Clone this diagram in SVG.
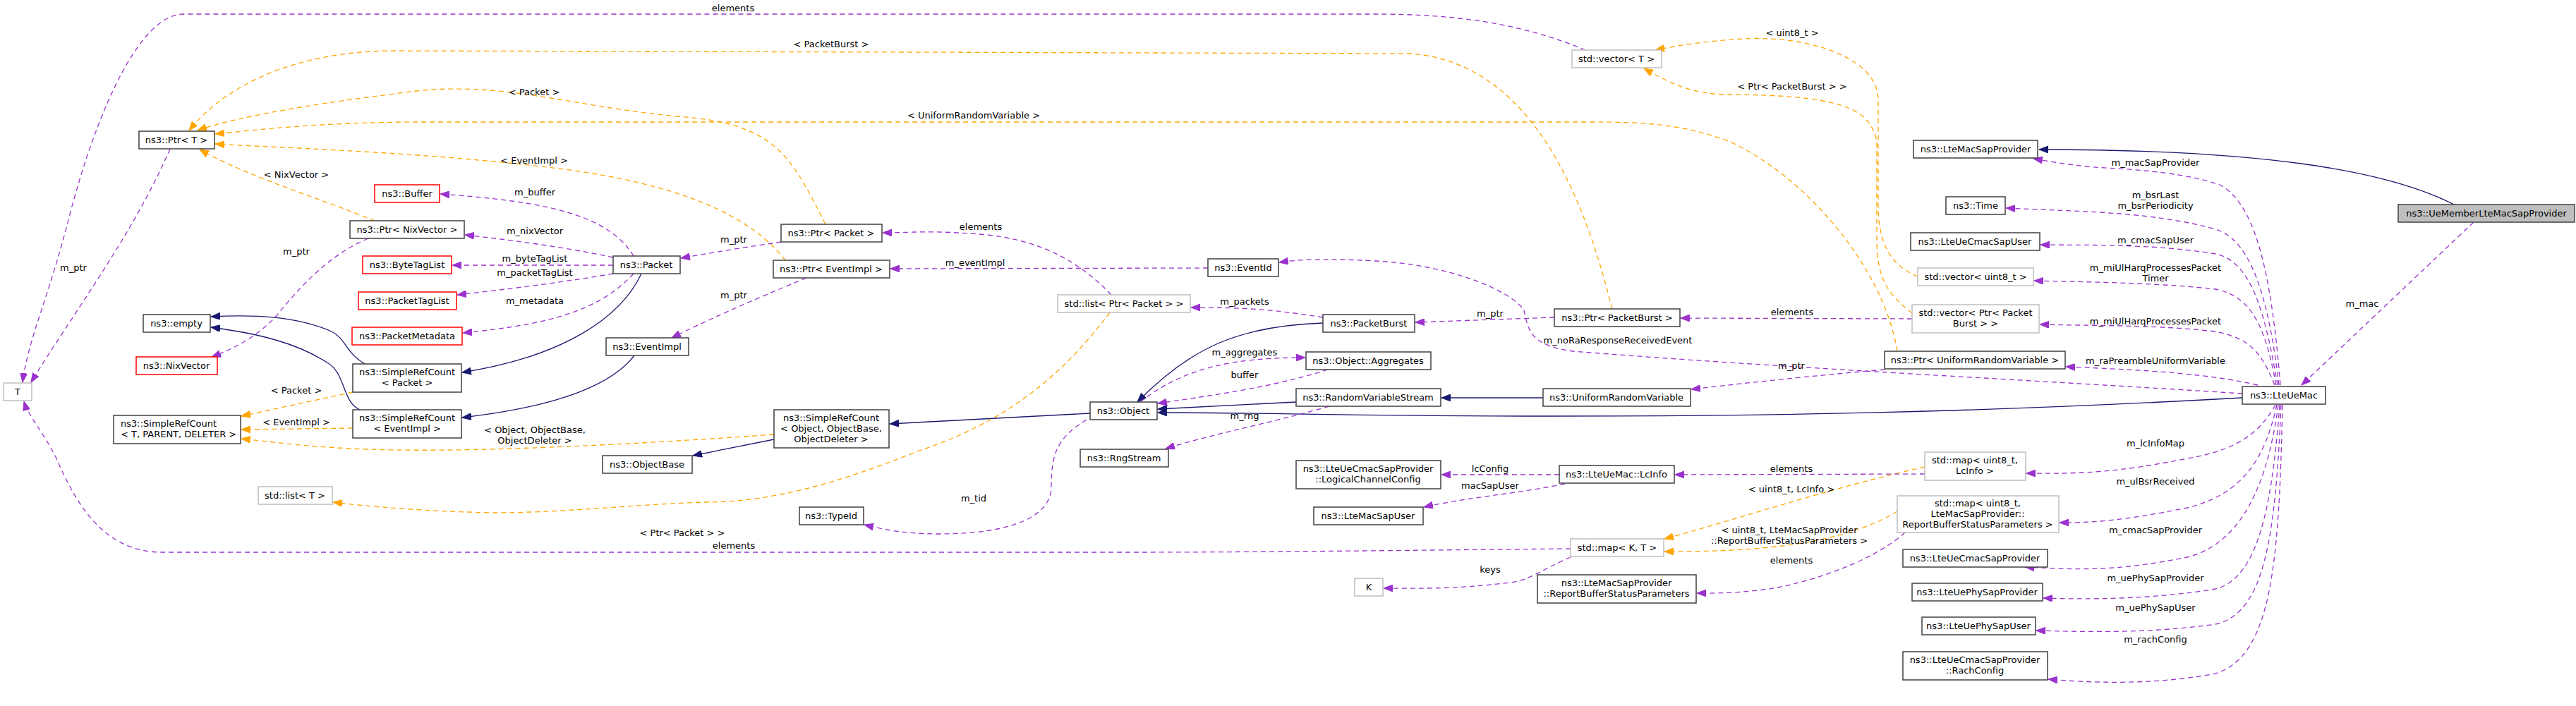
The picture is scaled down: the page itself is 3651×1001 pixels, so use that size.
<svg xmlns="http://www.w3.org/2000/svg" width="3651" height="1001" viewBox="0 0 3651 1001">
<style>
text{font-family:"DejaVu Sans","Liberation Sans",sans-serif;font-size:13px;fill:#000}
.n rect{fill:#fff;stroke:#404040;stroke-width:1.5}
.r rect{stroke:#ff0000}
.g rect{stroke:#bfbfbf}
.m text{text-anchor:middle}
.e path{fill:none;stroke-width:1.3}
.p{stroke:#9a32cd;stroke-dasharray:7,5;marker-end:url(#ap)}
.o{stroke:#ffa500;stroke-dasharray:7,5;marker-end:url(#ao)}
.b{stroke:#191970;marker-end:url(#ab)}
.l{text-anchor:middle}
</style>
<defs>
<marker id="ap" markerUnits="userSpaceOnUse" markerWidth="14" markerHeight="10" refX="13" refY="5" orient="auto"><path d="M0,0 L13,5 L0,10 z" fill="#9a32cd" stroke="#9a32cd"/></marker>
<marker id="ao" markerUnits="userSpaceOnUse" markerWidth="14" markerHeight="10" refX="13" refY="5" orient="auto"><path d="M0,0 L13,5 L0,10 z" fill="#ffa500" stroke="#ffa500"/></marker>
<marker id="ab" markerUnits="userSpaceOnUse" markerWidth="14" markerHeight="10" refX="13" refY="5" orient="auto"><path d="M0,0 L13,5 L0,10 z" fill="#191970" stroke="#191970"/></marker>
</defs>
<rect width="3651" height="1001" fill="#fff"/>
<g id="edges" class="e">
<path class="b" d="M3478,290 C3380,240 3200,212 2890,212"/>
<path class="b" d="M3178,564 C2800,585 2500,590 2200,590 C1900,590 1800,585 1641,585"/>
<path class="b" d="M1837,570 L1641,580"/>
<path class="b" d="M2187,564 L2043,564"/>
<path class="b" d="M1875,458 C1760,462 1690,490 1612,570"/>
<path class="b" d="M1545,586 L1261,601"/>
<path class="b" d="M1097,623 L982,646"/>
<path class="b" d="M909,388 C880,450 800,505 655,528"/>
<path class="b" d="M899,504 C860,555 760,580 655,592"/>
<path class="b" d="M517,516 C490,500 490,480 470,470 C420,448 360,446 299,449"/>
<path class="b" d="M510,581 C485,570 490,530 465,515 C420,485 360,472 299,464"/>
<path class="o" d="M2285,438 C2250,300 2180,90 2000,76 L560,72 C420,72 320,120 268,185"/>
<path class="o" d="M1170,318 C1120,220 1100,175 960,165 C800,150 700,110 560,133 C420,150 320,170 280,185"/>
<path class="o" d="M2689,498 C2670,380 2560,250 2450,200 C2380,175 2330,173 2250,173 L600,173 C480,173 400,180 305,190"/>
<path class="o" d="M1113,369 C1060,300 950,260 800,240 C600,215 400,210 305,204"/>
<path class="o" d="M531,313 C450,280 350,250 283,212"/>
<path class="o" d="M500,556 L342,590"/>
<path class="o" d="M500,607 L342,609"/>
<path class="o" d="M1097,616 C900,630 700,640 560,638 C450,636 400,628 342,622"/>
<path class="o" d="M1573,443 C1500,540 1420,600 1300,640 C1200,680 1100,712 1000,712 C900,715 800,727 700,727 C600,725 520,718 472,712"/>
<path class="o" d="M2718,392 C2690,380 2665,360 2662,300 L2662,140 C2660,80 2560,50 2470,55 C2420,58 2380,64 2346,71"/>
<path class="o" d="M2710,444 C2680,420 2660,400 2660,340 L2660,200 C2650,150 2600,135 2448,134 C2400,133 2370,120 2330,97"/>
<path class="o" d="M2728,662 C2600,690 2450,740 2359,764"/>
<path class="o" d="M2689,725 C2600,780 2450,782 2359,782"/>
<path class="p" d="M2247,71 C2150,30 2050,20 1950,20 L260,20 C200,20 140,150 100,300 C70,420 40,480 32,542"/>
<path class="p" d="M241,211 C190,330 100,450 44,542"/>
<path class="p" d="M522,338 C470,360 430,400 390,450 C360,480 330,495 300,506"/>
<path class="p" d="M3506,315 L3262,546"/>
<path class="p" d="M3232,546 C3220,400 3200,290 3146,262 C3080,240 3000,240 2957,236 C2920,232 2900,228 2882,225"/>
<path class="p" d="M3230,546 C3215,420 3190,340 3140,325 C3050,300 2950,300 2843,295"/>
<path class="p" d="M3228,546 C3210,440 3190,370 3140,360 C3050,345 2950,348 2892,347"/>
<path class="p" d="M3226,546 C3210,460 3190,420 3140,410 C3050,400 2950,400 2883,398"/>
<path class="p" d="M3224,546 C3205,500 3190,480 3140,470 C3050,460 2960,462 2891,460"/>
<path class="p" d="M3200,546 C3130,530 3050,525 2928,520"/>
<path class="p" d="M3178,558 C2900,540 2500,520 2230,498 C2170,490 2166,470 2160,440 C2140,410 2050,375 1950,370 C1880,366 1840,368 1813,372"/>
<path class="p" d="M2671,524 C2600,530 2500,540 2397,552"/>
<path class="p" d="M3225,574 C3200,620 3160,640 3100,650 C3000,670 2950,672 2872,671"/>
<path class="p" d="M3227,574 C3210,650 3180,700 3100,720 C3000,740 2960,741 2919,741"/>
<path class="p" d="M3229,574 C3215,680 3180,770 3100,790 C3000,810 2950,808 2870,804"/>
<path class="p" d="M3231,574 C3220,720 3200,820 3140,835 C3050,850 2960,850 2896,848"/>
<path class="p" d="M3233,574 C3225,760 3210,870 3140,885 C3050,898 2960,896 2886,894"/>
<path class="p" d="M3235,574 C3230,800 3220,930 3140,955 C3050,972 2960,968 2903,963"/>
<path class="p" d="M2728,672 L2374,673"/>
<path class="p" d="M2700,755 C2650,800 2550,830 2500,836 C2450,842 2420,841 2405,841"/>
<path class="p" d="M2226,790 C2180,810 2170,822 2140,826 C2060,836 2000,834 1961,834"/>
<path class="p" d="M2226,778 C2000,780 1800,783 1600,783 L230,783 C150,783 110,720 80,650 C60,610 40,590 34,569"/>
<path class="p" d="M2210,673 L2043,673"/>
<path class="p" d="M2218,686 C2150,700 2080,705 2018,719"/>
<path class="p" d="M1616,570 C1680,520 1750,507 1850,507"/>
<path class="p" d="M1882,524 C1800,550 1720,560 1641,572"/>
<path class="p" d="M1884,576 C1800,600 1720,615 1652,636"/>
<path class="p" d="M1540,595 C1500,620 1490,640 1490,690 C1490,730 1440,757 1330,757 C1280,757 1250,750 1225,744"/>
<path class="p" d="M1875,450 C1800,438 1760,436 1688,436"/>
<path class="p" d="M2203,450 L2006,457"/>
<path class="p" d="M2710,452 L2382,451"/>
<path class="p" d="M1712,380 L1262,381"/>
<path class="p" d="M1575,418 C1520,360 1460,340 1400,333 C1320,326 1290,330 1251,330"/>
<path class="p" d="M1107,343 C1060,350 1010,358 965,366"/>
<path class="p" d="M1143,394 C1080,420 1010,450 952,479"/>
<path class="p" d="M898,363 C860,300 760,285 624,275"/>
<path class="p" d="M869,365 C800,350 720,340 659,333"/>
<path class="p" d="M869,376 L641,376"/>
<path class="p" d="M869,388 C800,400 720,410 648,418"/>
<path class="p" d="M898,388 C850,440 780,460 656,472"/>
</g>
<g id="labels" class="l">
<text x="1039" y="16" class="l">elements</text>
<text x="1178" y="67" class="l">&lt; PacketBurst &gt;</text>
<text x="757" y="135" class="l">&lt; Packet &gt;</text>
<text x="1380" y="168" class="l">&lt; UniformRandomVariable &gt;</text>
<text x="757" y="232" class="l">&lt; EventImpl &gt;</text>
<text x="420" y="252" class="l">&lt; NixVector &gt;</text>
<text x="104" y="384" class="l">m_ptr</text>
<text x="420" y="361" class="l">m_ptr</text>
<text x="420" y="558" class="l">&lt; Packet &gt;</text>
<text x="420" y="603" class="l">&lt; EventImpl &gt;</text>
<text x="758" y="614" class="l">&lt; Object, ObjectBase,</text>
<text x="758" y="629" class="l">ObjectDeleter &gt;</text>
<text x="967" y="760" class="l">&lt; Ptr&lt; Packet &gt; &gt;</text>
<text x="2540" y="51" class="l">&lt; uint8_t &gt;</text>
<text x="2540" y="127" class="l">&lt; Ptr&lt; PacketBurst &gt; &gt;</text>
<text x="2539" y="698" class="l">&lt; uint8_t, LcInfo &gt;</text>
<text x="2536" y="756" class="l">&lt; uint8_t, LteMacSapProvider</text>
<text x="2536" y="771" class="l">::ReportBufferStatusParameters &gt;</text>
<text x="3348" y="435" class="l">m_mac</text>
<text x="3055" y="235" class="l">m_macSapProvider</text>
<text x="3055" y="281" class="l">m_bsrLast</text>
<text x="3055" y="296" class="l">m_bsrPeriodicity</text>
<text x="3055" y="345" class="l">m_cmacSapUser</text>
<text x="3055" y="384" class="l">m_miUlHarqProcessesPacket</text>
<text x="3055" y="399" class="l">Timer</text>
<text x="3055" y="460" class="l">m_miUlHarqProcessesPacket</text>
<text x="3055" y="516" class="l">m_raPreambleUniformVariable</text>
<text x="2293" y="487" class="l">m_noRaResponseReceivedEvent</text>
<text x="2539" y="523" class="l">m_ptr</text>
<text x="3055" y="633" class="l">m_lcInfoMap</text>
<text x="3055" y="687" class="l">m_ulBsrReceived</text>
<text x="3055" y="756" class="l">m_cmacSapProvider</text>
<text x="3055" y="824" class="l">m_uePhySapProvider</text>
<text x="3055" y="866" class="l">m_uePhySapUser</text>
<text x="3055" y="911" class="l">m_rachConfig</text>
<text x="2539" y="669" class="l">elements</text>
<text x="2539" y="799" class="l">elements</text>
<text x="2112" y="812" class="l">keys</text>
<text x="1040" y="778" class="l">elements</text>
<text x="2112" y="669" class="l">lcConfig</text>
<text x="2112" y="693" class="l">macSapUser</text>
<text x="1764" y="504" class="l">m_aggregates</text>
<text x="1764" y="536" class="l">buffer</text>
<text x="1764" y="594" class="l">m_rng</text>
<text x="1380" y="711" class="l">m_tid</text>
<text x="1764" y="432" class="l">m_packets</text>
<text x="2112" y="449" class="l">m_ptr</text>
<text x="2540" y="447" class="l">elements</text>
<text x="1382" y="377" class="l">m_eventImpl</text>
<text x="1390" y="326" class="l">elements</text>
<text x="1040" y="344" class="l">m_ptr</text>
<text x="1040" y="423" class="l">m_ptr</text>
<text x="758" y="277" class="l">m_buffer</text>
<text x="758" y="332" class="l">m_nixVector</text>
<text x="758" y="371" class="l">m_byteTagList</text>
<text x="758" y="391" class="l">m_packetTagList</text>
<text x="758" y="431" class="l">m_metadata</text>
</g>
<g id="UeMember" class="n m"><rect x="3399" y="290" width="250" height="25" style="fill:#bfbfbf"/><text x="3524" y="307">ns3::UeMemberLteMacSapProvider</text></g>
<g id="LteMacSapProvider" class="n m"><rect x="2712" y="199" width="176" height="25"/><text x="2800" y="216">ns3::LteMacSapProvider</text></g>
<g id="LteUeMac" class="n m"><rect x="3178" y="548" width="118" height="25"/><text x="3237" y="565">ns3::LteUeMac</text></g>
<g id="Time" class="n m"><rect x="2758" y="279" width="84" height="25"/><text x="2800" y="296">ns3::Time</text></g>
<g id="LteUeCmacSapUser" class="n m"><rect x="2708" y="330" width="183" height="25"/><text x="2799" y="347">ns3::LteUeCmacSapUser</text></g>
<g id="VecUint8" class="n m g"><rect x="2718" y="380" width="164" height="25"/><text x="2800" y="397">std::vector&lt; uint8_t &gt;</text></g>
<g id="VecPtrPB" class="n m g"><rect x="2710" y="432" width="180" height="40"/><text x="2800" y="448">std::vector&lt; Ptr&lt; Packet</text><text x="2800" y="463">Burst &gt; &gt;</text></g>
<g id="PtrURV" class="n m"><rect x="2671" y="498" width="256" height="25"/><text x="2799" y="515">ns3::Ptr&lt; UniformRandomVariable &gt;</text></g>
<g id="MapLcInfo" class="n m g"><rect x="2728" y="641" width="143" height="40"/><text x="2799" y="657">std::map&lt; uint8_t,</text><text x="2799" y="672">LcInfo &gt;</text></g>
<g id="MapRBSP" class="n m g"><rect x="2689" y="703" width="229" height="52"/><text x="2803" y="718">std::map&lt; uint8_t,</text><text x="2803" y="733">LteMacSapProvider::</text><text x="2803" y="748">ReportBufferStatusParameters &gt;</text></g>
<g id="LteUeCmacSapProvider" class="n m"><rect x="2697" y="779" width="205" height="25"/><text x="2799" y="796">ns3::LteUeCmacSapProvider</text></g>
<g id="LteUePhySapProvider" class="n m"><rect x="2710" y="827" width="185" height="25"/><text x="2802" y="844">ns3::LteUePhySapProvider</text></g>
<g id="LteUePhySapUser" class="n m"><rect x="2724" y="875" width="161" height="25"/><text x="2804" y="892">ns3::LteUePhySapUser</text></g>
<g id="RachConfig" class="n m"><rect x="2697" y="924" width="205" height="40"/><text x="2799" y="940">ns3::LteUeCmacSapProvider</text><text x="2799" y="955">::RachConfig</text></g>
<g id="VectorT" class="n m g"><rect x="2228" y="71" width="127" height="25"/><text x="2291" y="88">std::vector&lt; T &gt;</text></g>
<g id="PtrPacketBurst" class="n m"><rect x="2203" y="438" width="178" height="25"/><text x="2292" y="455">ns3::Ptr&lt; PacketBurst &gt;</text></g>
<g id="UniformRandomVariable" class="n m"><rect x="2187" y="551" width="209" height="25"/><text x="2291" y="568">ns3::UniformRandomVariable</text></g>
<g id="LcInfo" class="n m"><rect x="2210" y="660" width="163" height="25"/><text x="2291" y="677">ns3::LteUeMac::LcInfo</text></g>
<g id="MapKT" class="n m g"><rect x="2226" y="764" width="132" height="25"/><text x="2292" y="781">std::map&lt; K, T &gt;</text></g>
<g id="RBSP" class="n m"><rect x="2179" y="815" width="225" height="40"/><text x="2291" y="831">ns3::LteMacSapProvider</text><text x="2291" y="846">::ReportBufferStatusParameters</text></g>
<g id="EventId" class="n m"><rect x="1712" y="367" width="100" height="25"/><text x="1762" y="384">ns3::EventId</text></g>
<g id="ListPtrPacket" class="n m g"><rect x="1499" y="418" width="188" height="25"/><text x="1593" y="435">std::list&lt; Ptr&lt; Packet &gt; &gt;</text></g>
<g id="PacketBurst" class="n m"><rect x="1875" y="446" width="130" height="25"/><text x="1940" y="463">ns3::PacketBurst</text></g>
<g id="Aggregates" class="n m"><rect x="1851" y="499" width="177" height="25"/><text x="1939" y="516">ns3::Object::Aggregates</text></g>
<g id="RandomVariableStream" class="n m"><rect x="1837" y="551" width="205" height="25"/><text x="1939" y="568">ns3::RandomVariableStream</text></g>
<g id="Object" class="n m"><rect x="1545" y="570" width="95" height="25"/><text x="1592" y="587">ns3::Object</text></g>
<g id="RngStream" class="n m"><rect x="1531" y="637" width="125" height="25"/><text x="1593" y="654">ns3::RngStream</text></g>
<g id="LogicalChannelConfig" class="n m"><rect x="1837" y="653" width="205" height="40"/><text x="1939" y="669">ns3::LteUeCmacSapProvider</text><text x="1939" y="684">::LogicalChannelConfig</text></g>
<g id="LteMacSapUser" class="n m"><rect x="1862" y="719" width="155" height="25"/><text x="1939" y="736">ns3::LteMacSapUser</text></g>
<g id="K" class="n m g"><rect x="1920" y="820" width="40" height="25"/><text x="1940" y="837">K</text></g>
<g id="TypeId" class="n m"><rect x="1133" y="719" width="91" height="25"/><text x="1178" y="736">ns3::TypeId</text></g>
<g id="SRCObject" class="n m"><rect x="1097" y="581" width="163" height="54"/><text x="1178" y="597">ns3::SimpleRefCount</text><text x="1178" y="612">&lt; Object, ObjectBase,</text><text x="1178" y="627">ObjectDeleter &gt;</text></g>
<g id="ObjectBase" class="n m"><rect x="854" y="646" width="127" height="25"/><text x="917" y="663">ns3::ObjectBase</text></g>
<g id="PtrPacket" class="n m"><rect x="1107" y="318" width="143" height="25"/><text x="1178" y="335">ns3::Ptr&lt; Packet &gt;</text></g>
<g id="PtrEventImpl" class="n m"><rect x="1096" y="369" width="165" height="25"/><text x="1178" y="386">ns3::Ptr&lt; EventImpl &gt;</text></g>
<g id="Packet" class="n m"><rect x="869" y="363" width="95" height="25"/><text x="916" y="380">ns3::Packet</text></g>
<g id="EventImpl" class="n m"><rect x="859" y="479" width="117" height="25"/><text x="917" y="496">ns3::EventImpl</text></g>
<g id="Buffer" class="n m r"><rect x="531" y="262" width="92" height="25"/><text x="577" y="279">ns3::Buffer</text></g>
<g id="PtrNixVector" class="n m"><rect x="496" y="313" width="162" height="25"/><text x="577" y="330">ns3::Ptr&lt; NixVector &gt;</text></g>
<g id="ByteTagList" class="n m r"><rect x="514" y="363" width="126" height="25"/><text x="577" y="380">ns3::ByteTagList</text></g>
<g id="PacketTagList" class="n m r"><rect x="508" y="414" width="139" height="25"/><text x="577" y="431">ns3::PacketTagList</text></g>
<g id="PacketMetadata" class="n m r"><rect x="499" y="464" width="156" height="25"/><text x="577" y="481">ns3::PacketMetadata</text></g>
<g id="SRCPacket" class="n m"><rect x="500" y="516" width="154" height="40"/><text x="577" y="532">ns3::SimpleRefCount</text><text x="577" y="547">&lt; Packet &gt;</text></g>
<g id="SRCEventImpl" class="n m"><rect x="500" y="581" width="154" height="40"/><text x="577" y="597">ns3::SimpleRefCount</text><text x="577" y="612">&lt; EventImpl &gt;</text></g>
<g id="empty" class="n m"><rect x="203" y="446" width="95" height="25"/><text x="250" y="463">ns3::empty</text></g>
<g id="NixVector" class="n m r"><rect x="193" y="506" width="115" height="25"/><text x="250" y="523">ns3::NixVector</text></g>
<g id="SRCTPD" class="n"><rect x="161" y="589" width="180" height="40"/><text x="171" y="605">ns3::SimpleRefCount</text><text x="171" y="620">&lt; T, PARENT, DELETER &gt;</text></g>
<g id="ListT" class="n m g"><rect x="366" y="690" width="105" height="25"/><text x="418" y="707">std::list&lt; T &gt;</text></g>
<g id="PtrT" class="n m"><rect x="197" y="186" width="107" height="25"/><text x="250" y="203">ns3::Ptr&lt; T &gt;</text></g>
<g id="T" class="n m g"><rect x="5" y="543" width="40" height="25"/><text x="25" y="560">T</text></g>
</svg>
